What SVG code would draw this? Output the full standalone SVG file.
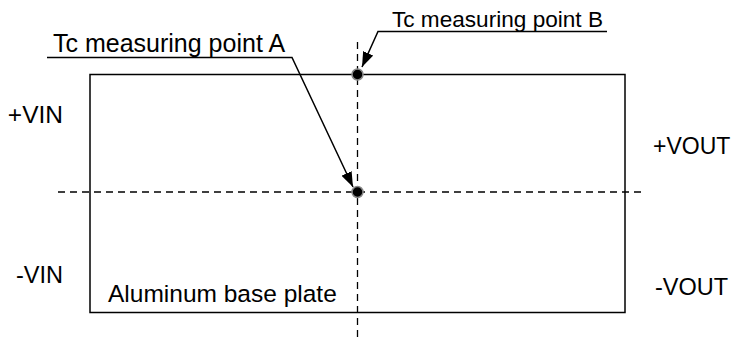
<svg xmlns="http://www.w3.org/2000/svg" width="739" height="341" viewBox="0 0 739 341">
<defs>
<style>
.t{font-family:"Liberation Sans",Arial,sans-serif;fill:#000}
.ln{stroke:#000;stroke-width:1.5;fill:none}
.dash{stroke:#000;stroke-width:1.3;stroke-dasharray:7 5;fill:none}
.dot{fill:#000;stroke:#888;stroke-width:1.5}
</style>
<marker id="arr" viewBox="0 0 15 11" refX="15" refY="5.5" markerWidth="15" markerHeight="11" markerUnits="userSpaceOnUse" orient="auto">
<path d="M0,0 L15,5.5 L0,11 Z" fill="#000"/>
</marker>
</defs>
<rect width="739" height="341" fill="#fff"/>
<g id="plate">
<rect x="90" y="74.5" width="535" height="238" class="ln"/>
<text class="t" x="108" y="302" font-size="24.5">Aluminum base plate</text>
</g>
<g id="axes">
<line x1="357.5" y1="42" x2="357.5" y2="340" class="dash"/>
<line x1="58" y1="192" x2="646" y2="192" class="dash"/>
</g>
<g id="pointB">
<circle cx="357.5" cy="74.5" r="5.5" class="dot"/>
</g>
<g id="pointA">
<circle cx="357.5" cy="192" r="5.5" class="dot"/>
</g>
<g id="labelA">
<text class="t" x="53" y="52" font-size="25">Tc measuring point A</text>
</g>
<g id="labelB">
<text class="t" x="392" y="26.5" font-size="22.6">Tc measuring point B</text>
</g>
<g id="terminals">
<text class="t" x="63" y="123" font-size="24.5" text-anchor="end">+VIN</text>
<text class="t" x="63" y="283" font-size="23.5" text-anchor="end">-VIN</text>
<text class="t" x="653" y="154" font-size="23">+VOUT</text>
<text class="t" x="655" y="295" font-size="23.5">-VOUT</text>
</g>
<g id="connectors">
<polyline points="47,57.5 292,57.5 353,187" class="ln" marker-end="url(#arr)"/>
<polyline points="607,31.5 378,31.5 362,67" class="ln" marker-end="url(#arr)"/>
</g>
</svg>
